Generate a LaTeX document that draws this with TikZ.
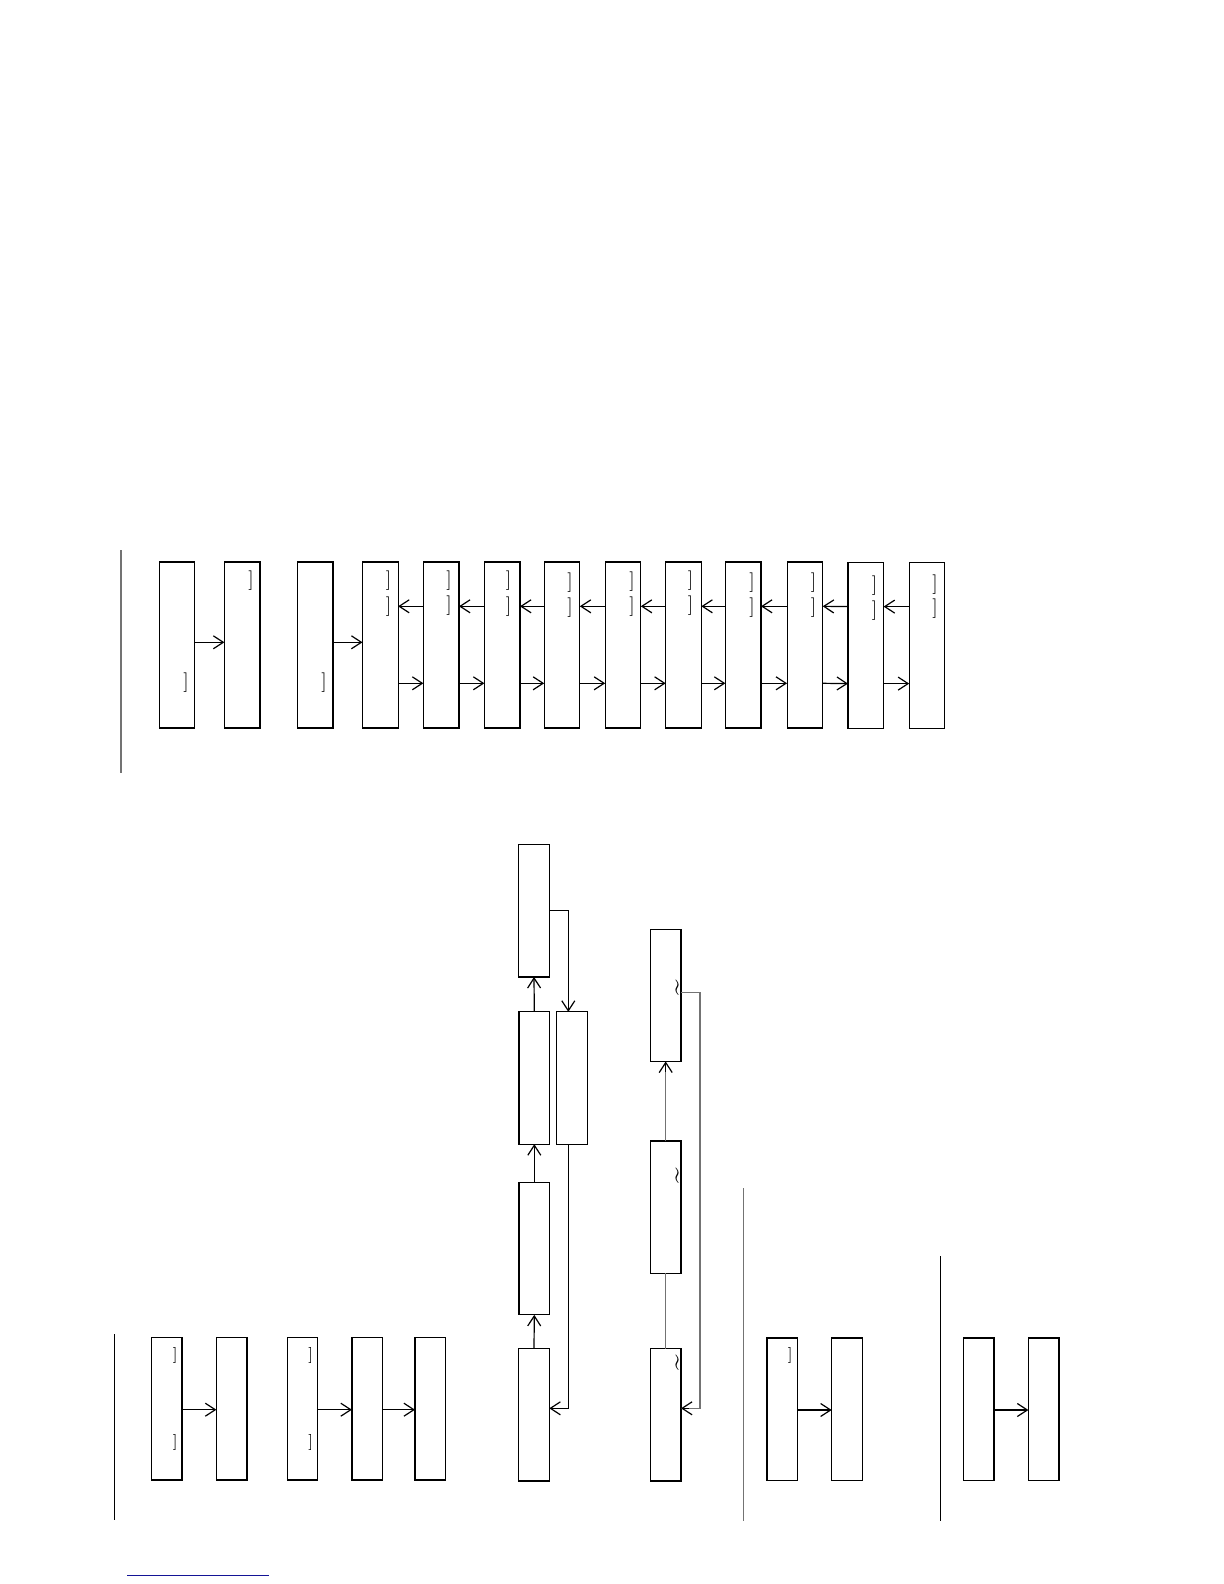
\documentclass[tikz,border=0pt]{standalone}
\usetikzlibrary{arrows.meta}
\begin{document}
\begin{tikzpicture}[x=0.5pt,y=-0.5pt,
 box/.style={draw=black, line width=0.6pt, inner sep=0, outer sep=0, minimum width=17.8pt, minimum height=83pt},
 sbox/.style={box, minimum width=15.3pt, minimum height=66.15pt},
 tbox/.style={box, minimum width=15.3pt, minimum height=71.35pt},
 arr/.style={line width=0.6pt, -{Straight Barb[length=5pt,width=6.5pt]}},
 ln/.style={line width=0.6pt},
 gln/.style={line width=0.6pt, draw=black!55},
 brk/.style={inner sep=0, font=\fontsize{9.75}{10}\selectfont},
 sbrk/.style={inner sep=0, font=\fontsize{8}{9}\selectfont},
 tld/.style={inner sep=0, rotate=90, font=\fontsize{14}{15}\selectfont},
]
\fill[white] (0,0) rectangle (1224,1584);
\useasboundingbox (0,0) rectangle (1224,1584);

% ---------- top section ----------
\coordinate (l1t) at (121,550); \coordinate (l1b) at (121,773);
\draw[gln] (l1t) -- (l1b);

\node[box] (a1) at (176.9,645) {};
\node[box] (a2) at (242.2,645) {};
\node[box] (a3) at (315.2,645) {};
\node[box] (a4) at (380.3,645) {};
\node[box] (a5) at (441.2,645) {};
\node[box] (a6) at (502.2,645) {};
\node[box] (a7) at (562,645) {};
\node[box] (a8) at (623,645) {};
\node[box] (a9) at (683.5,645) {};
\node[box] (a10) at (743.2,645) {};
\node[box] (a11) at (804.9,645) {};
\node[box] (a12) at (865.8,645.3) {};
\node[box] (a13) at (927,645.3) {};

\node[brk] (k1) at (186,682.5) {]};
\node[brk] (k2) at (251,580.5) {]};
\node[brk] (k3) at (324,682.5) {]};
\node[brk] (k4a) at (388.5,580.5) {]};  \node[brk] (k4b) at (388.5,606.5) {]};
\node[brk] (k5a) at (449,580.5) {]};    \node[brk] (k5b) at (449,605.5) {]};
\node[brk] (k6a) at (508.5,580.5) {]};  \node[brk] (k6b) at (508.5,606.5) {]};
\node[brk] (k7a) at (570,583) {]};      \node[brk] (k7b) at (570,608) {]};
\node[brk] (k8a) at (632,582) {]};      \node[brk] (k8b) at (632,607) {]};
\node[brk] (k9a) at (690.5,581) {]};    \node[brk] (k9b) at (690.5,606) {]};
\node[brk] (k10a) at (752,583) {]};     \node[brk] (k10b) at (752,608) {]};
\node[brk] (k11a) at (813.5,582.3) {]}; \node[brk] (k11b) at (813.5,607.8) {]};
\node[brk] (k12a) at (874.5,585.3) {]}; \node[brk] (k12b) at (874.5,610.3) {]};
\node[brk] (k13a) at (935,584.7) {]};   \node[brk] (k13b) at (935,608.3) {]};

\draw[arr] ([yshift=1.35pt]a1.east) -- ([yshift=1.35pt]a2.west);
\draw[arr] ([yshift=1.35pt]a3.east) -- ([yshift=1.35pt]a4.west);

\foreach \p/\q in {a4/a5,a5/a6,a6/a7,a7/a8,a8/a9,a9/a10,a10/a11,a11/a12,a12/a13}{
  \draw[arr] ([yshift=19.35pt]\q.west) -- ([yshift=19.35pt]\p.east);
  \draw[arr] ([yshift=-19.15pt]\p.east) -- ([yshift=-19.15pt]\q.west);
}

% ---------- middle flow B ----------
\node[sbox] (b1) at (534,910.8) {};
\node[sbox] (b2) at (534.3,1078) {};
\node[sbox] (b3) at (572,1078) {};
\node[sbox] (b4) at (534.3,1248.7) {};
\node[sbox] (b5) at (534,1414.8) {};

\draw[arr] (b2.north) -- (b1.south);
\draw[arr] (b4.north) -- (b2.south);
\draw[arr] (b5.north) -- (b4.south);
\draw[arr] (b1.east) -| ([xshift=-1.85pt]b3.north);
\draw[arr] ([xshift=-1.85pt]b3.south) |- ([yshift=3.25pt]b5.east);

% ---------- middle flow C ----------
\node[sbox] (c1) at (665.7,995.3) {};
\node[sbox] (c2) at (665.7,1207.2) {};
\node[sbox] (c3) at (665.7,1414.8) {};

\node[tld] (t1) at (680,988) {\textasciitilde};
\node[tld] (t2) at (680.5,1176) {\textasciitilde};
\node[tld] (t3) at (680.5,1363) {\textasciitilde};

\draw[gln] (c3.north) -- (c2.south);
\draw[gln] (c2.north) -- ([yshift=-5pt]c1.south);
\draw[arr] ([yshift=-5.2pt]c1.south) -- (c1.south);
\coordinate (cr) at (700,992.7);
\draw[gln] ([yshift=1.3pt]c1.east) -- (cr) |- ([yshift=3.25pt]c3.east);
\draw[arr] ([xshift=4pt,yshift=3.25pt]c3.east) -- ([yshift=3.25pt]c3.east);

% ---------- bottom-left section D ----------
\coordinate (l2t) at (114.3,1334); \coordinate (l2b) at (114.3,1520);
\draw[ln] (l2t) -- (l2b);
\node[tbox] (d1) at (166.7,1408.7) {};
\node[tbox] (d2) at (231.7,1408.7) {};
\node[tbox] (d3) at (302.5,1408.7) {};
\node[tbox] (d4) at (367.2,1408.7) {};
\node[tbox] (d5) at (430.3,1408.7) {};
\node[sbrk] (m1a) at (175.3,1355.3) {]}; \node[sbrk] (m1b) at (175.3,1442.5) {]};
\node[sbrk] (m3a) at (310.7,1355.3) {]}; \node[sbrk] (m3b) at (310.7,1442.5) {]};
\draw[arr] ([yshift=-0.5pt]d1.east) -- ([yshift=-0.5pt]d2.west);
\draw[arr] ([yshift=-0.5pt]d3.east) -- ([yshift=-0.5pt]d4.west);
\draw[arr] ([yshift=-0.5pt]d4.east) -- ([yshift=-0.5pt]d5.west);

% ---------- bottom-right sections E, F ----------
\coordinate (l3t) at (743.7,1188.3); \coordinate (l3b) at (743.7,1520.7);
\draw[gln] (l3t) -- (l3b);
\node[tbox] (e1) at (782.2,1409.3) {};
\node[tbox] (e2) at (847,1409.3) {};
\node[sbrk] (m5) at (790.3,1355.5) {]};
\draw[arr] ([yshift=-0.35pt]e1.east) -- ([yshift=-0.35pt]e2.west);

\coordinate (l4t) at (940.3,1256); \coordinate (l4b) at (940.3,1520.7);
\draw[ln] (l4t) -- (l4b);
\node[tbox] (f1) at (978.7,1409.3) {};
\node[tbox] (f2) at (1043.7,1409.3) {};
\draw[arr] ([yshift=-0.35pt]f1.east) -- ([yshift=-0.35pt]f2.west);

% ---------- blue rule ----------
\coordinate (bl1) at (127.3,1575.7); \coordinate (bl2) at (269,1575.7);
\draw[line width=0.6pt, draw={rgb,255:red,20;green,20;blue,150}] (bl1) -- (bl2);
\end{tikzpicture}
\end{document}
